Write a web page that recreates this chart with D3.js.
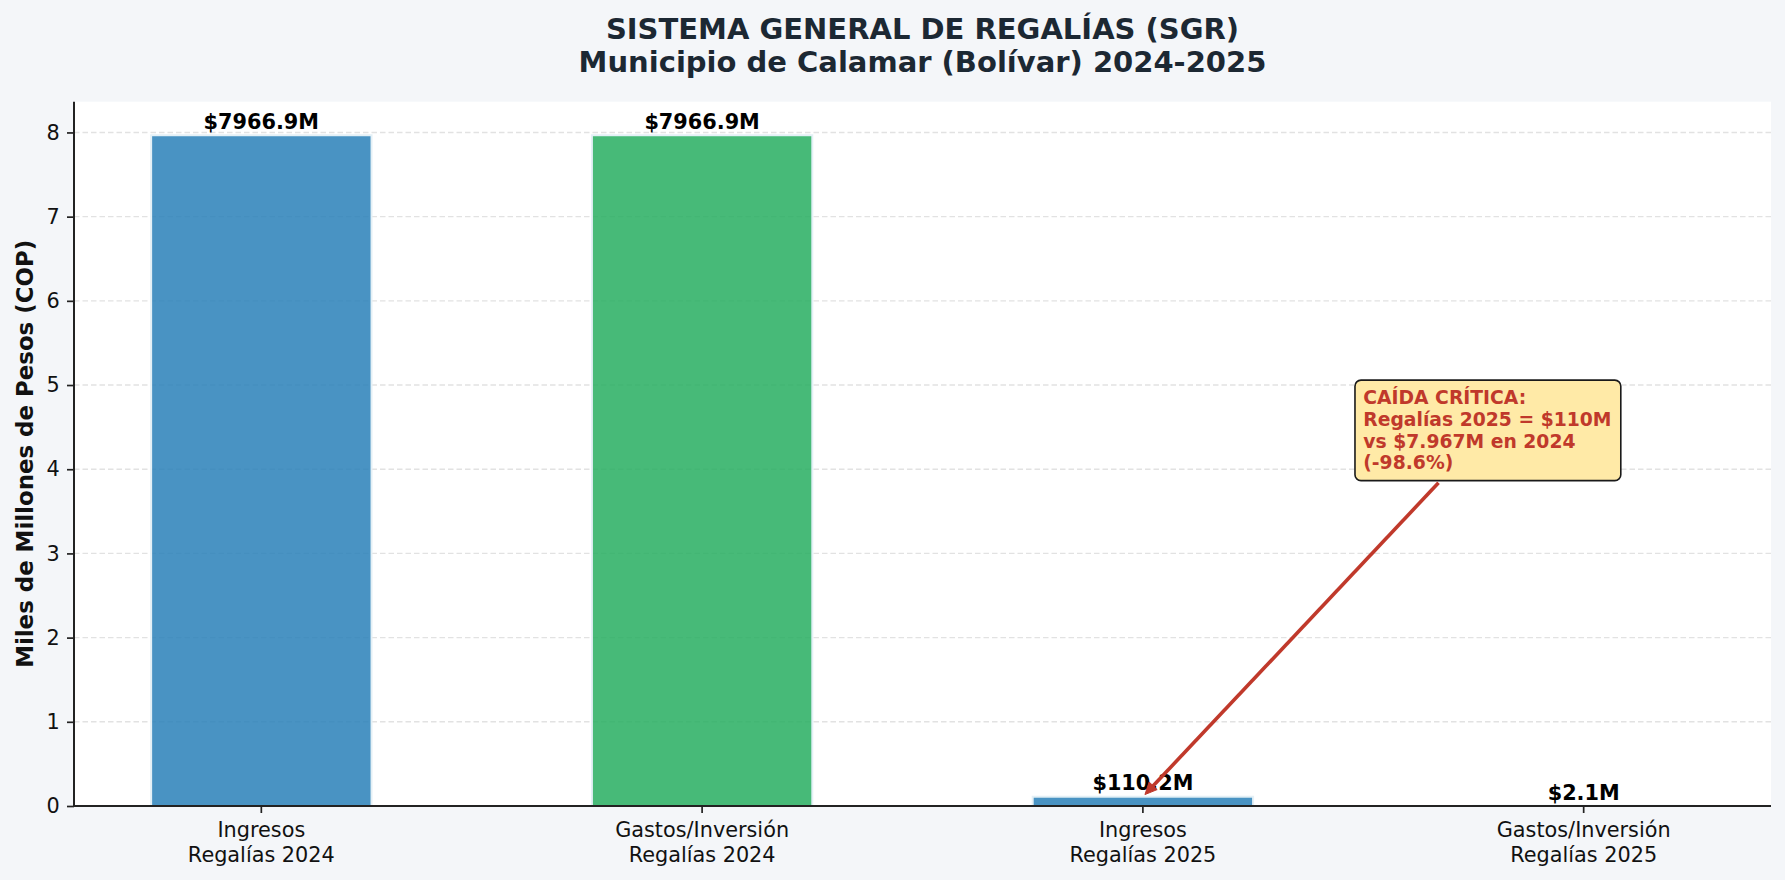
<!DOCTYPE html>
<html>
<head>
<meta charset="utf-8">
<script src="https://cdn.jsdelivr.net/npm/d3@7"></script>
<style>
  html, body { margin: 0; padding: 0; background: #f4f6f9; }
  svg { display: block; }
  text { font-family: "DejaVu Sans", sans-serif; }
</style>
</head>
<body>
<svg id="chart" width="1785" height="880"></svg>
<script>
// ---------------- DATA ----------------
const categories = [
  ["Ingresos", "Regalías 2024"],
  ["Gastos/Inversión", "Regalías 2024"],
  ["Ingresos", "Regalías 2025"],
  ["Gastos/Inversión", "Regalías 2025"]
];
const valuesMillions = [7966.9, 7966.9, 110.2, 2.1];
const barColors = ["#2980b9", "#27ae60", "#2980b9", "#27ae60"];
const yTicks = [0, 1, 2, 3, 4, 5, 6, 7, 8];
const titleLines = ["SISTEMA GENERAL DE REGALÍAS (SGR)", "Municipio de Calamar (Bolívar) 2024-2025"];
const yLabel = "Miles de Millones de Pesos (COP)";
const noteLines = ["CAÍDA CRÍTICA:", "Regalías 2025 = $110M", "vs $7.967M en 2024", "(-98.6%)"];
const noteTextPos = [2.5, 4.0];   // data coords (x index, y)
const noteTarget = [2, 0.11];     // data coords

// ---------------- LAYOUT ----------------
const W = 1785, H = 880;
const L = 74, R = 1771, T = 101.7, B = 806;
const svg = d3.select("#chart");

svg.append("rect").attr("width", W).attr("height", H).attr("fill", "#f4f6f9");
svg.append("rect").attr("x", L).attr("y", T).attr("width", R - L).attr("height", B - T).attr("fill", "#ffffff");

const values = valuesMillions.map(v => v / 1000);
const yMax = d3.max(values) * 1.05;

const x = d3.scaleBand()
  .domain(d3.range(categories.length))
  .range([L, R])
  .paddingInner(0.5)
  .paddingOuter(0.175);
const y = d3.scaleLinear().domain([0, yMax]).range([B, T]);

// grid
svg.append("g").selectAll("line").data(yTicks).join("line")
  .attr("x1", L).attr("x2", R)
  .attr("y1", d => y(d)).attr("y2", d => y(d))
  .attr("stroke", "#e2e2e2").attr("stroke-width", 1.4)
  .attr("stroke-dasharray", "5.5,3");

// bars
svg.append("g").selectAll("rect").data(values).join("rect")
  .attr("x", (d, i) => x(i))
  .attr("width", x.bandwidth())
  .attr("y", d => y(d))
  .attr("height", d => B - y(d))
  .attr("fill", (d, i) => barColors[i])
  .attr("fill-opacity", 0.85)
  .attr("stroke", "#e4f0f6")
  .attr("stroke-width", 2);

// bar labels
svg.append("g").selectAll("text").data(values).join("text")
  .attr("x", (d, i) => x(i) + x.bandwidth() / 2)
  .attr("y", d => y(d) - 6.3)
  .attr("text-anchor", "middle")
  .attr("font-weight", "bold")
  .attr("font-size", 20.8)
  .attr("fill", "#000")
  .text((d, i) => "$" + valuesMillions[i].toFixed(1) + "M");

// axes
const yAxis = svg.append("g")
  .attr("transform", `translate(${L},0)`)
  .call(d3.axisLeft(y).tickValues(yTicks).tickFormat(d3.format("d")).tickSize(7).tickPadding(7.3));
const xAxis = svg.append("g")
  .attr("transform", `translate(0,${B})`)
  .call(d3.axisBottom(x).tickSize(7).tickPadding(7).tickFormat(""));

[yAxis, xAxis].forEach(g => {
  g.select(".domain").attr("stroke", "#222").attr("stroke-width", 2);
  g.selectAll(".tick line").attr("stroke", "#222").attr("stroke-width", 1.7);
});
yAxis.select(".domain").attr("d", `M0,${T}V${B}`);
xAxis.select(".domain").attr("d", `M${L},0H${R}`);
yAxis.selectAll(".tick text")
  .attr("font-size", 20.8).attr("fill", "#111")
  .attr("font-family", "DejaVu Sans");

xAxis.selectAll(".tick text").remove();
xAxis.selectAll(".tick").each(function(d) {
  const t = d3.select(this).append("text")
    .attr("text-anchor", "middle")
    .attr("font-size", 20.8)
    .attr("fill", "#111")
    .attr("font-family", "DejaVu Sans");
  categories[d].forEach((line, k) => {
    t.append("tspan").attr("x", 0).attr("y", 30.7 + k * 25).text(line);
  });
});

// y label
svg.append("text")
  .attr("transform", `translate(32.5,${(T + B) / 2}) rotate(-90)`)
  .attr("text-anchor", "middle")
  .attr("font-weight", "bold")
  .attr("font-size", 22.9)
  .attr("fill", "#111")
  .text(yLabel);

// title
const titleG = svg.append("text")
  .attr("text-anchor", "middle")
  .attr("font-weight", "bold")
  .attr("font-size", 29)
  .attr("fill", "#1c2833");
titleLines.forEach((line, k) => {
  titleG.append("tspan").attr("x", (L + R) / 2).attr("y", 38.5 + k * 33).text(line);
});

// annotation
const fsN = 18.75, lineH = 21.7;
const textLeft = L + (noteTextPos[0] - (-0.425)) * x.step();
const lastBase = y(noteTextPos[1]);
const firstBase = lastBase - (noteLines.length - 1) * lineH;

const noteG = svg.append("g");
const boxRect = noteG.append("rect");
const noteText = noteG.append("text")
  .attr("font-weight", "bold")
  .attr("font-size", fsN)
  .attr("fill", "#c0392b");
noteLines.forEach((line, k) => {
  noteText.append("tspan").attr("x", textLeft).attr("y", firstBase + k * lineH).text(line);
});
let maxW = 0;
noteText.selectAll("tspan").each(function() { maxW = Math.max(maxW, this.getComputedTextLength()); });
const bx0 = textLeft - 8.3, bx1 = textLeft + maxW + 9.3;
const by0 = firstBase - 24, by1 = lastBase + 11.4;
boxRect.attr("x", bx0).attr("y", by0).attr("width", bx1 - bx0).attr("height", by1 - by0)
  .attr("rx", 6).attr("ry", 6)
  .attr("fill", "#ffeaa7").attr("stroke", "#1a1a1a").attr("stroke-width", 1.6);

// arrow from box center toward target, clipped by box edge
const cx = (bx0 + bx1) / 2, cy = (by0 + by1) / 2;
const tX = x(noteTarget[0]) + x.bandwidth() / 2, tY = y(noteTarget[1]);
const dx = tX - cx, dy = tY - cy, len = Math.hypot(dx, dy);
const ux = dx / len, uy = dy / len;
const tEdge = Math.min(Math.abs((by1 - cy) / uy), Math.abs((bx0 - cx) / ux));
const sx = cx + ux * (tEdge + 3), sy = cy + uy * (tEdge + 3);
const ex = tX - ux * 3, ey = tY - uy * 3;
const headL = 12, headW = 5.5;
const bxh = ex - ux * headL, byh = ey - uy * headL;
svg.append("line")
  .attr("x1", sx).attr("y1", sy).attr("x2", bxh + ux * 2).attr("y2", byh + uy * 2)
  .attr("stroke", "#c0392b").attr("stroke-width", 3.6);
svg.append("path")
  .attr("d", `M${ex},${ey}L${bxh - uy * headW},${byh + ux * headW}L${bxh + uy * headW},${byh - ux * headW}Z`)
  .attr("fill", "#c0392b").attr("stroke", "#c0392b").attr("stroke-width", 1);
</script>
</body>
</html>
